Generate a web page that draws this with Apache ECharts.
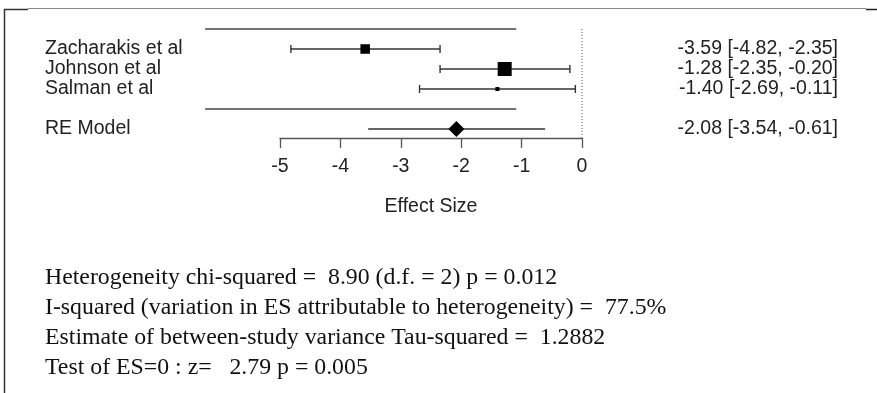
<!DOCTYPE html>
<html>
<head>
<meta charset="utf-8">
<script src="https://cdn.jsdelivr.net/npm/echarts@6/dist/echarts.min.js"></script>
<style>
  html, body { margin: 0; padding: 0; background: #fff; }
  #chart { width: 877px; height: 393px; }
</style>
</head>
<body>
<div id="chart"></div>
<script>
// study rows
const studies = ["Zacharakis et al", "Johnson et al", "Salman et al"];
const estimates = [-3.59, -1.28, -1.40];
const lower = [-4.82, -2.35, -2.69];
const upper = [-2.35, -0.20, -0.11];
const relWeight = [0.68, 1.0, 0.29];
const studyRows = [1, 2, 3];

// pooled estimate
const modelName = "RE Model";
const modelEst = -2.08;
const modelLower = -3.54;
const modelUpper = -0.61;
const modelRow = 5;

// horizontal rules of the plot (row, from, to)
const ruleRows = [0, 4];
const ruleFrom = -6.24;
const ruleTo = -1.09;

const xTicks = [-5, -4, -3, -2, -1, 0];
const statLines = [
  "Heterogeneity chi-squared =  8.90 (d.f. = 2) p = 0.012",
  "I-squared (variation in ES attributable to heterogeneity) =  77.5%",
  "Estimate of between-study variance Tau-squared =  1.2882",
  "Test of ES=0 : z=   2.79 p = 0.005"
];

const sans = '"Liberation Sans", Arial, Helvetica, sans-serif';
const serif = '"Liberation Serif", "Times New Roman", serif';
const ink = "#222";
const lineCol = "#333";

const fmt = v => v.toFixed(2);
const ciText = (e, l, u) => fmt(e) + " [" + fmt(l) + ", " + fmt(u) + "]";

let studyData = studies.map((s, i) => [estimates[i], lower[i], upper[i], studyRows[i], relWeight[i]]);
let labelData = studies.map((s, i) => [0, studyRows[i], s, ciText(estimates[i], lower[i], upper[i])]);
labelData.push([0, modelRow, modelName, ciText(modelEst, modelLower, modelUpper)]);

let myChart = echarts.init(document.getElementById("chart"));

let option = {
  animation: false,
  grid: { left: 280, right: 295, top: 29, bottom: 255 },
  xAxis: {
    type: "value",
    position: "bottom",
    min: xTicks[0],
    max: xTicks[xTicks.length - 1],
    interval: 1,
    splitLine: { show: false },
    axisLine: { show: true, onZero: false, lineStyle: { color: "#555", width: 1.3 } },
    axisTick: { show: true, length: 10, lineStyle: { color: "#555", width: 1.3 } },
    axisLabel: { fontFamily: sans, fontSize: 19.5, color: ink, margin: 19 },
    name: "Effect Size",
    nameLocation: "middle",
    nameGap: 59,
    nameTextStyle: { fontFamily: sans, fontSize: 19.5, color: ink }
  },
  yAxis: {
    type: "value",
    inverse: true,
    min: 0,
    max: 5.45,
    show: false
  },
  graphic: [
    { type: "line", shape: { x1: 4.5, y1: 9, x2: 4.5, y2: 393 }, style: { stroke: "#333", lineWidth: 1.5 } },
    { type: "line", shape: { x1: 4, y1: 9.5, x2: 28, y2: 9.5 }, style: { stroke: "#333", lineWidth: 1.5 } },
    { type: "line", shape: { x1: 28, y1: 8.5, x2: 866, y2: 8.5 }, style: { stroke: "#888", lineWidth: 1.2 } },
    { type: "line", shape: { x1: 866, y1: 9.5, x2: 877, y2: 9.5 }, style: { stroke: "#222", lineWidth: 1.5 } }
  ].concat(statLines.map((t, i) => ({
    type: "text",
    x: 45,
    y: 278 + i * 30,
    style: { text: t, font: "23.8px " + serif, fill: "#111", verticalAlign: "middle" }
  }))),
  series: [
    {
      // top and separator rules
      type: "custom",
      clip: false,
      silent: true,
      data: ruleRows.map(r => [ruleFrom, ruleTo, r]),
      renderItem: function (params, api) {
        let p1 = api.coord([api.value(0), api.value(2)]);
        let p2 = api.coord([api.value(1), api.value(2)]);
        return {
          type: "line",
          shape: { x1: p1[0], y1: p1[1], x2: p2[0], y2: p2[1] },
          style: { stroke: "#444", lineWidth: 1.6 }
        };
      }
    },
    {
      // reference line at zero
      type: "custom",
      clip: false,
      silent: true,
      data: [[0, 0, 5.45]],
      renderItem: function (params, api) {
        let p1 = api.coord([api.value(0), api.value(1)]);
        let p2 = api.coord([api.value(0), api.value(2)]);
        return {
          type: "line",
          shape: { x1: p1[0], y1: p1[1], x2: p2[0], y2: p2[1] },
          style: { stroke: "#555", lineWidth: 1, lineDash: [1, 2] }
        };
      }
    },
    {
      // study estimates with CI
      type: "custom",
      clip: false,
      silent: true,
      data: studyData,
      renderItem: function (params, api) {
        let c = api.coord([api.value(0), api.value(3)]);
        let l = api.coord([api.value(1), api.value(3)]);
        let u = api.coord([api.value(2), api.value(3)]);
        let s = 14 * api.value(4);
        let st = { stroke: lineCol, lineWidth: 1.4 };
        return {
          type: "group",
          children: [
            { type: "line", shape: { x1: l[0], y1: c[1], x2: u[0], y2: c[1] }, style: st },
            { type: "line", shape: { x1: l[0], y1: c[1] - 4, x2: l[0], y2: c[1] + 4 }, style: st },
            { type: "line", shape: { x1: u[0], y1: c[1] - 4, x2: u[0], y2: c[1] + 4 }, style: st },
            { type: "rect", shape: { x: c[0] - s / 2, y: c[1] - s / 2, width: s, height: s }, style: { fill: "#000" } }
          ]
        };
      }
    },
    {
      // pooled estimate
      type: "custom",
      clip: false,
      silent: true,
      data: [[modelEst, modelLower, modelUpper, modelRow]],
      renderItem: function (params, api) {
        let c = api.coord([api.value(0), api.value(3)]);
        let l = api.coord([api.value(1), api.value(3)]);
        let u = api.coord([api.value(2), api.value(3)]);
        let h = 8;
        return {
          type: "group",
          children: [
            { type: "line", shape: { x1: l[0], y1: c[1], x2: u[0], y2: c[1] }, style: { stroke: lineCol, lineWidth: 1.4 } },
            { type: "polygon", shape: { points: [[c[0] - h, c[1]], [c[0], c[1] - h], [c[0] + h, c[1]], [c[0], c[1] + h]] }, style: { fill: "#000" } }
          ]
        };
      }
    },
    {
      // row labels and CI text
      type: "custom",
      clip: false,
      silent: true,
      data: labelData,
      renderItem: function (params, api) {
        let y = api.coord([0, api.value(1)])[1];
        let d = labelData[params.dataIndex];
        return {
          type: "group",
          children: [
            { type: "text", x: 45, y: y, style: { text: d[2], font: "19.5px " + sans, fill: ink, align: "left", verticalAlign: "middle" } },
            { type: "text", x: 838, y: y, style: { text: d[3], font: "19.5px " + sans, fill: ink, align: "right", verticalAlign: "middle" } }
          ]
        };
      }
    }
  ]
};

myChart.setOption(option);
</script>
</body>
</html>
